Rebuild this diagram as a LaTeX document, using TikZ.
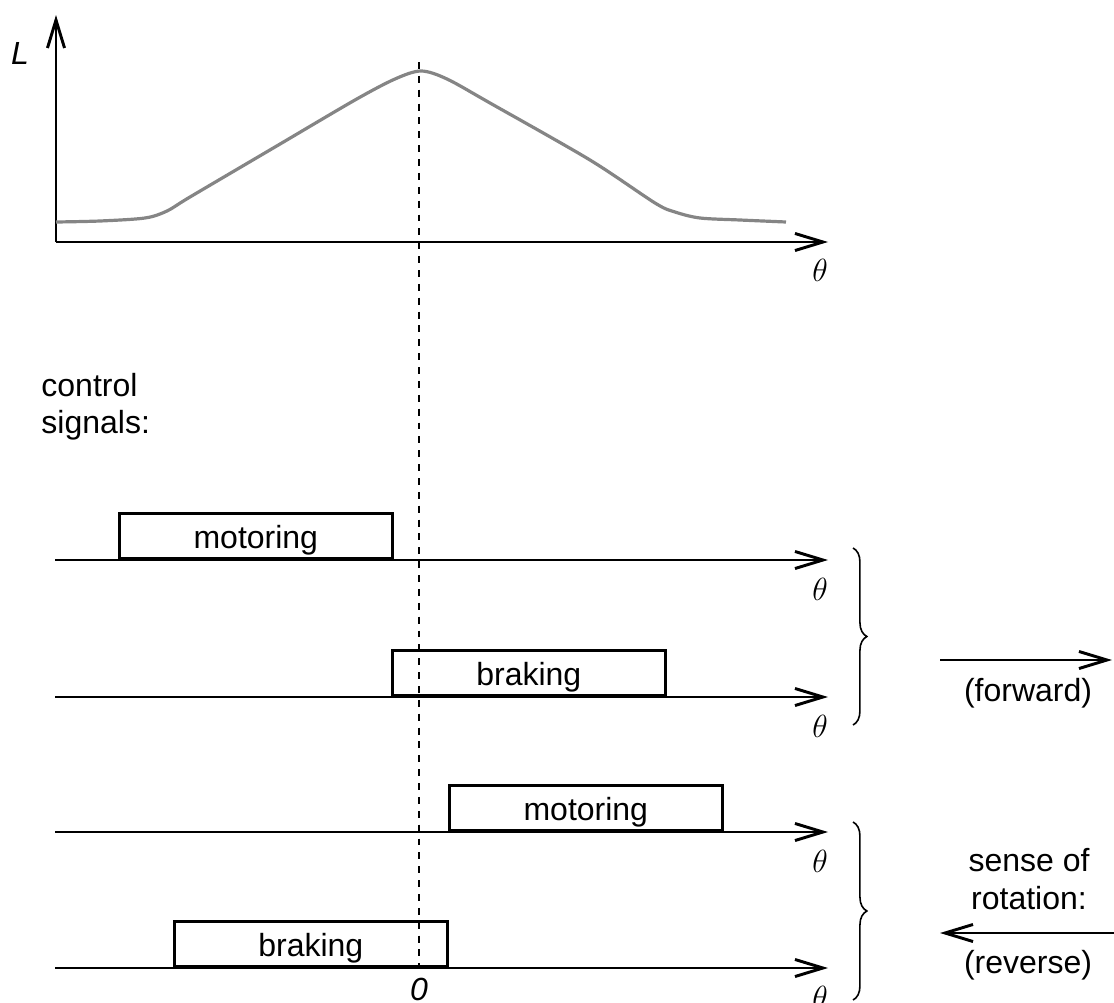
\documentclass[tikz,border=0pt]{standalone}
\usepackage{fontspec}
\setsansfont{Liberation Sans}
\usepackage{tikz}
\usetikzlibrary{arrows.meta,decorations.pathreplacing}
\definecolor{CurveGray}{HTML}{858585}

\begin{document}
\begin{tikzpicture}[x=0.375pt,y=-0.375pt,
  axis/.style={line width=1.1pt,-{Straight Barb[length=10.5pt,width=6.4pt]}},
  sigbox/.style={draw,line width=0.95pt,minimum width=102.4pt,minimum height=16.9pt,inner sep=0pt,
    text height=9.4pt,text depth=0pt,font=\sffamily\large,anchor=south west},
  lbl/.style={font=\sffamily\large},
  thlbl/.style={font=\large},
  brk/.style={line width=0.6pt,decorate,decoration={brace,amplitude=5.2pt}},
  zeroline/.style={line width=0.75pt,dash pattern=on 2.6pt off 2.6pt}]
  \useasboundingbox (0,0) rectangle (1114,1003);

  % Axes of the L curve
  \coordinate (O) at (56,242);
  \coordinate (ytip) at (56,15);
  \coordinate (xtip) at (828,242);
  \draw[axis] (O) -- (ytip);
  \draw[axis] (O) -- (xtip);
  \node[font=\sffamily\itshape\large] (Llbl) at (20,53) {L};
  \node[thlbl] (th0) at (820,270) {$\theta$};

  % L curve
  \draw[CurveGray, line width=1.2pt] plot[smooth, tension=0.5] coordinates {
    (56,222) (100,221) (145,218) (167,211) (190,197) (275,147) (355,100)
    (395,79) (421,71) (447,79) (490,103) (590,160) (655,203) (675,212)
    (700,218) (740,220) (786,222)};

  % Zero line
  \coordinate (ztop) at (419,62);
  \coordinate (zbot) at (419,968);
  \node[font=\sffamily\itshape\large] (zero) at (419,989) {0};

  \node[lbl, align=left, anchor=west] (ctrl) at (32,407) {control\\signals:};

  % Control signals
  \foreach \n/\y/\xa/\lab in {1/560/118/motoring, 2/697/391/braking, 3/832/448/motoring, 4/968/173/braking} {
    \coordinate (s\n) at (55,\y);
    \coordinate (e\n) at (828,\y);
    \node[sigbox] (box\n) at (\xa,\y) {\lab};
    \draw[axis] (s\n) -- (e\n);
    \node[thlbl] (th\n) at (820,\y+29) {$\theta$};
  }

  \draw[zeroline] (ztop) -- (zbot);

  % Braces
  \draw[brk] (853,548) -- (853,725);
  \draw[brk] (853,822) -- (853,1000);

  % Sense of rotation
  \coordinate (fa) at (940,660);
  \coordinate (fb) at (1112,660);
  \draw[axis] (fa) -- (fb);
  \node[lbl] (fwd) at (1028,693) {(forward)};
  \node[lbl, align=center] (sense) at (1029,879) {sense of\\rotation:};
  \coordinate (ra) at (1114,933);
  \coordinate (rb) at (940,933);
  \draw[axis] (ra) -- (rb);
  \node[lbl] (rev) at (1028,965) {(reverse)};
\end{tikzpicture}
\end{document}
